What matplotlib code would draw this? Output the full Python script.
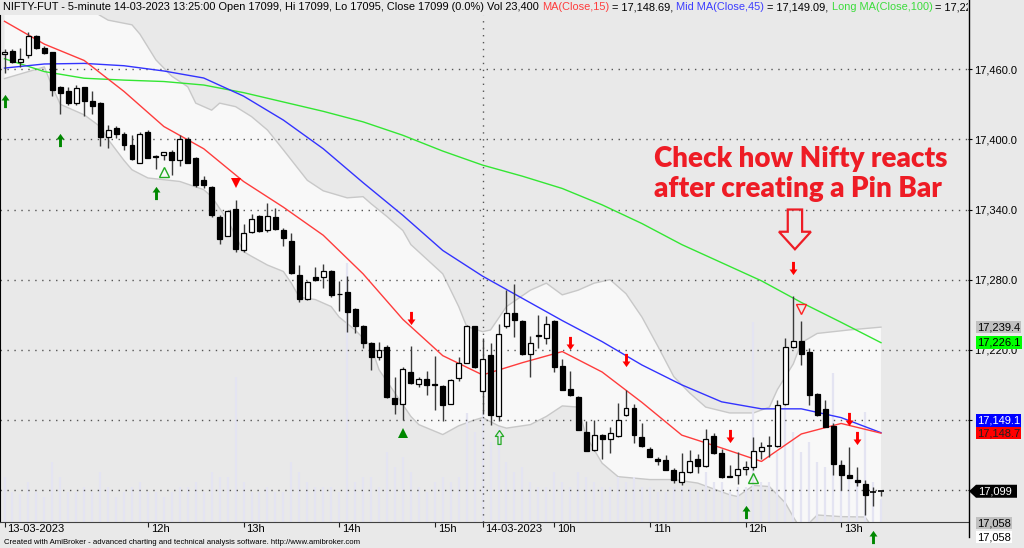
import matplotlib
matplotlib.use("Agg")
import matplotlib.pyplot as plt
from matplotlib.path import Path
from matplotlib.patches import Polygon
from matplotlib.lines import Line2D
from matplotlib.transforms import Bbox, blended_transform_factory

W, H = 1024, 548

# 5-minute bars: 13-03-2023 10:30 .. 15:25, then 14-03-2023 09:15 .. 13:25
opens = [17473, 17476, 17466.5, 17472, 17488.5, 17478, 17474.5, 17445, 17441, 17431,
         17444.5, 17433, 17431, 17402, 17409.5, 17405, 17395, 17380, 17406, 17385.5,
         17387, 17389.5, 17382, 17400.5, 17384.5, 17365, 17359.5, 17334, 17317.5, 17340.5,
         17305.5, 17321, 17334.5, 17322.5, 17334, 17322.5, 17313, 17284, 17263.5, 17282,
         17282.5, 17287.5, 17268, 17269.5, 17254.5, 17240, 17226, 17214, 17222, 17179,
         17174, 17201, 17190.5, 17195, 17190.5, 17189, 17174, 17195.5, 17209, 17240,
         17185, 17215.5, 17163.5, 17240, 17251.5, 17244.5, 17216.5, 17232.5, 17230.5, 17244.5,
         17206, 17186.5, 17180, 17150, 17134.5, 17147.5, 17143.5, 17146.5, 17164, 17170,
         17145, 17135.5, 17127, 17125.5, 17117.5, 17107, 17115.5, 17127, 17120.5, 17146.5,
         17131.5, 17112, 17113, 17118, 17120, 17133.5, 17137.5, 17137.5, 17173.5, 17222.5,
         17227.5, 17218, 17182.5, 17169, 17155, 17121.5, 17112.5, 17108.5, 17105.5, 17098.5,
         17099]
highs = [17477, 17477, 17478, 17492, 17489, 17480, 17475, 17446, 17445, 17446.5,
         17445, 17441, 17432, 17412, 17411.5, 17406.5, 17404, 17406.5, 17408, 17386.5,
         17389.5, 17391, 17404, 17402, 17385, 17369, 17360.5, 17335.5, 17339.5, 17348,
         17328, 17336, 17335.5, 17345.5, 17341, 17324, 17319.5, 17292.5, 17278.5, 17290.5,
         17293, 17288.5, 17278.5, 17283.5, 17255.5, 17241.5, 17226.5, 17227, 17224, 17197,
         17205, 17223, 17197, 17202, 17215, 17190, 17195, 17213.5, 17241, 17240.5,
         17230.5, 17226, 17242, 17271.5, 17276, 17245.5, 17231.5, 17250, 17249, 17245.5,
         17212, 17201.5, 17180.5, 17159, 17160, 17148, 17154, 17174.5, 17186, 17173.5,
         17157, 17137, 17128.5, 17130, 17118.5, 17131.5, 17134.5, 17131, 17152, 17149,
         17135.5, 17121.5, 17133, 17124.5, 17145, 17141, 17146, 17177, 17230.5, 17266,
         17244.5, 17221.5, 17183, 17177, 17157, 17125.5, 17137, 17120, 17109, 17102.5,
         17099]
lows = [17457, 17465, 17462, 17470, 17477, 17473, 17437, 17422, 17429.5, 17429.5,
        17420, 17421.5, 17394, 17393, 17401, 17391, 17382, 17379.5, 17384, 17375,
        17382.5, 17369.5, 17377, 17379.5, 17359.5, 17358, 17334, 17310.5, 17317, 17304,
        17304, 17319.5, 17321, 17321, 17322.5, 17309, 17284.5, 17260.5, 17263, 17278.5,
        17272.5, 17265.5, 17253, 17235, 17234, 17221.5, 17203, 17211.5, 17178.5, 17165.5,
        17160, 17191, 17188.5, 17181, 17168.5, 17159, 17173.5, 17193.5, 17208.5, 17204.5,
        17165, 17155.5, 17159, 17238.5, 17231, 17215.5, 17197, 17221.5, 17225, 17201,
        17185.5, 17180.5, 17151, 17133.5, 17133.5, 17127, 17131.5, 17145, 17163.5, 17140.5,
        17137, 17128, 17121.5, 17117, 17106, 17104.5, 17114.5, 17115, 17120, 17131,
        17110, 17111.5, 17105.5, 17113, 17117.5, 17127, 17128.5, 17137, 17173, 17221.5,
        17207, 17172.5, 17163.5, 17154, 17113, 17100, 17110, 17103.5, 17079, 17086,
        17095]
closes = [17475, 17466, 17469, 17488.5, 17478, 17474, 17442, 17439.5, 17431.5, 17444,
          17432.5, 17428.5, 17402, 17408, 17405, 17395, 17383, 17405, 17384.5, 17385,
          17389, 17382.5, 17400.5, 17380, 17361, 17361, 17335, 17315, 17339, 17306,
          17319.5, 17331.5, 17322, 17334.5, 17323.5, 17315.5, 17286, 17263.5, 17278, 17280,
          17287.5, 17266.5, 17267.5, 17252.5, 17240, 17226, 17213.5, 17220, 17179.5, 17174,
          17203.5, 17192, 17195, 17190, 17190, 17172.5, 17194, 17209, 17240.5, 17205.5,
          17212.5, 17164, 17233.5, 17251.5, 17245.5, 17216, 17226, 17232, 17242.5, 17205.5,
          17186, 17181, 17151.5, 17133.5, 17147.5, 17143.5, 17148.5, 17160, 17170, 17147,
          17137.5, 17128, 17125, 17117, 17108.5, 17115.5, 17125, 17120.5, 17144, 17132,
          17111.5, 17111.5, 17118, 17120, 17133.5, 17137, 17137.5, 17172.5, 17222, 17227.5,
          17216.5, 17181.5, 17164.5, 17154, 17122.5, 17112.5, 17110.5, 17106.5, 17095.5, 17098.5,
          17099]
# volume, thousands
volumes = [45, 30, 28, 40, 30, 25, 60, 45, 30, 30,
           35, 30, 50, 35, 25, 30, 35, 40, 30, 30,
           25, 30, 35, 35, 40, 30, 50, 45, 45, 145,
           40, 30, 30, 35, 30, 30, 60, 50, 40, 35,
           35, 35, 30, 259, 40, 45, 45, 35, 70, 55,
           65, 50, 35, 30, 40, 45, 40, 45, 109, 90,
           110, 80, 95, 60, 50, 55, 40, 35, 35, 50,
           40, 35, 50, 45, 40, 35, 35, 45, 40, 45,
           35, 35, 30, 30, 35, 35, 35, 30, 50, 40,
           40, 30, 35, 35, 200, 40, 40, 70, 140, 90,
           70, 80, 60, 55, 149, 60, 50, 45, 110, 40, 23]

# moving averages, read every 5 bars
ma_idx = list(range(0, 111, 5))
ma15 = [17501, 17481.5, 17467.5, 17441, 17411, 17392, 17364, 17342, 17318, 17285, 17246, 17215,
        17198.5, 17209, 17218.5, 17201, 17175, 17147, 17136, 17124.5, 17148, 17157, 17148.7]
ma45 = [17461, 17464.5, 17465, 17463, 17458.5, 17452.5, 17437, 17416.5, 17392, 17363, 17335, 17305,
        17283, 17264, 17245, 17227, 17207, 17190, 17175.5, 17169.5, 17169.5, 17162, 17149.1]
ma100 = [17469, 17458, 17452.3, 17450.7, 17449.5, 17446.5, 17440, 17432, 17424, 17415, 17403.5, 17390,
         17378, 17368.5, 17358, 17344, 17328, 17310, 17294.5, 17279, 17260.5, 17243.5, 17226.1]

# bollinger band edges
bb_up_idx = [0, 10, 12, 13, 16, 17, 19, 21, 23, 24, 26, 27, 29, 31, 33, 35, 38, 40, 43, 45,
             46, 48, 50, 51, 55, 57, 58, 60, 61, 63, 66, 68, 70, 72, 74, 76, 78, 80, 82, 84,
             86, 88, 91, 94, 96, 97, 99, 100, 102, 106, 110]
bb_up = [17525, 17515, 17506, 17502, 17498, 17490, 17468, 17454, 17445, 17431,
         17425, 17431, 17428, 17419.5, 17408, 17391, 17365, 17356, 17350, 17351,
         17345, 17334, 17322, 17310, 17285, 17257, 17240, 17235.5, 17237, 17257,
         17271, 17277, 17267, 17271, 17277, 17280, 17268, 17248, 17223, 17197,
         17183, 17171, 17166, 17166, 17171, 17186, 17208, 17226, 17234, 17237, 17239.4]
bb_lo_idx = [0, 2, 4, 5, 6, 7, 10, 12, 13, 15, 16, 18, 22, 25, 26, 28, 30, 31, 33, 35,
             36, 37, 39, 41, 42, 44, 46, 47, 49, 51, 52, 55, 57, 59, 60, 62, 63, 66, 68, 70,
             72, 73, 75, 77, 81, 84, 87, 91, 92, 94, 96, 98, 99, 100, 101, 102, 105, 108, 110]
bb_lo = [17452, 17456, 17460, 17462, 17445, 17430, 17421, 17411, 17400, 17382,
         17374, 17367, 17364, 17357, 17351, 17331, 17304, 17300, 17292.5, 17287,
         17277, 17265, 17263, 17257, 17248, 17237, 17223, 17203, 17183, 17163,
         17156, 17147.5, 17155, 17160, 17162, 17155, 17153, 17156, 17163, 17172,
         17171, 17146, 17123, 17111.5, 17109, 17109, 17106, 17096, 17094.5, 17104,
         17103, 17089, 17077, 17066, 17072, 17078.7, 17077.3, 17077, 17058]

# signal markers (bar, price)
buy_arrow_bars = [0, 7, 19, 93, 109]
buy_arrow_px = [17433, 17399.5, 17354, 17081, 17060]
buy_hollow_arrow_bars = [62]
buy_hollow_arrow_px = [17145.5]
buy_tri_bars = [50]
buy_tri_px = [17149]
buy_hollow_tri_bars = [20, 94]
buy_hollow_tri_px = [17372, 17110]
sell_arrow_bars = [51, 71, 78, 91, 99, 106, 107]
sell_arrow_px = [17247, 17226, 17211, 17146, 17290, 17161, 17144.5]
sell_tri_bars = [29]
sell_tri_px = [17363]
sell_hollow_tri_bars = [100]
sell_hollow_tri_px = [17255]

price_ticks = [17100, 17160, 17220, 17280, 17340, 17400, 17460]
hidden_ticks = [17100, 17160]  # covered by the value boxes
time_tick_bars = [0, 18, 30, 42, 54, 60, 69, 81, 93, 105]
time_tick_labels = ["13-03-2023", "12h", "13h", "14h", "15h", "14-03-2023", "10h", "11h", "12h", "13h"]
day_break = 60

BG = "#e9e9e9"
FONT = "Liberation Sans"

def fx(px):
    return px / W

def fy(py):
    return 1 - py / H

fig = plt.figure(figsize=(W / 100, H / 100), dpi=100)
fig.patch.set_facecolor(BG)
ax = fig.add_axes([0, fy(522), fx(968), (522 - 15) / H])
ax.set_facecolor(BG)
ax.set_xlim(-0.565, 120.92)
ax.set_ylim(17072.7, 17506.4)

# band
band = list(zip(bb_up_idx, bb_up)) + list(zip(bb_lo_idx, bb_lo))[::-1]
ax.add_patch(Polygon(band, closed=True, facecolor="#f8f8f8", edgecolor="none", zorder=1))
ax.plot(bb_up_idx, bb_up, color="#c8c8c8", lw=1, zorder=1.5)
ax.plot(bb_lo_idx, bb_lo, color="#c8c8c8", lw=1, zorder=1.5)

# volume
vt = blended_transform_factory(ax.transData, ax.transAxes)
bars = list(range(len(closes)))
ax.vlines(bars, 0, [v / 507 for v in volumes], transform=vt, colors="#e4e4f2", lw=1.6, zorder=2)

# grid
for p in price_ticks:
    ax.axhline(p, color="#555555", lw=1, ls=(0, (1, 4)), zorder=2.5)
ax.axvline(day_break, color="#555555", lw=1, ls=(0, (1, 4)), zorder=2.5)

# moving averages
ax.plot(ma_idx, ma100, color="#33e633", lw=1, zorder=3)
ax.plot(ma_idx, ma45, color="#3333ff", lw=1, zorder=3)
ax.plot(ma_idx, ma15, color="#ff3c3c", lw=1, zorder=3)

# candles
ax.vlines(bars, lows, highs, colors="#3a3a3a", lw=1, zorder=4)
for i, (o, c) in enumerate(zip(opens, closes)):
    if o == c:
        ax.hlines(o, i - 0.33, i + 0.33, colors="black", lw=1.2, zorder=5)
        continue
    fc = "white" if c > o else "black"
    ax.bar(i, abs(c - o), bottom=min(o, c), width=0.62, color=fc,
           edgecolor="black", linewidth=0.9, zorder=5)

# markers
up_arrow = Path([(0, 1), (0.6, 0.15), (0.22, 0.15), (0.22, -1), (-0.22, -1), (-0.22, 0.15), (-0.6, 0.15), (0, 1)])
down_arrow = Path([(0, -1), (0.6, -0.15), (0.22, -0.15), (0.22, 1), (-0.22, 1), (-0.22, -0.15), (-0.6, -0.15), (0, -1)])
mk = dict(ls="none", zorder=6, clip_on=False)
ax.plot(buy_arrow_bars, buy_arrow_px, marker=up_arrow, ms=9.5, color="#008800", mew=0, **mk)
ax.plot(buy_hollow_arrow_bars, buy_hollow_arrow_px, marker=up_arrow, ms=10, mfc="none", mec="#22aa22", mew=0.9, **mk)
ax.plot(buy_tri_bars, buy_tri_px, marker="^", ms=7, color="#008800", mew=0, **mk)
ax.plot(buy_hollow_tri_bars, buy_hollow_tri_px, marker="^", ms=6.5, mfc="none", mec="#22aa22", mew=1, **mk)
ax.plot(sell_arrow_bars, sell_arrow_px, marker=down_arrow, ms=9.5, color="#ff0000", mew=0, **mk)
ax.plot(sell_tri_bars, sell_tri_px, marker="v", ms=7, color="#ff0000", mew=0, **mk)
ax.plot(sell_hollow_tri_bars, sell_hollow_tri_px, marker="v", ms=6.5, mfc="none", mec="#ff2222", mew=1, **mk)

# axes / spines
for s in ("top", "right"):
    ax.spines[s].set_visible(False)
ax.spines["left"].set_color("black")
ax.spines["bottom"].set_color("#404040")
ax.yaxis.tick_right()
ax.set_yticks(price_ticks)
ax.set_yticklabels(["" if p in hidden_ticks else f"{p:,.1f}" for p in price_ticks], fontsize=8, family=FONT)
ax.tick_params(axis="y", length=3, width=0.8, pad=1.5, colors="black")
ax.set_xticks(time_tick_bars)
ax.set_xticklabels([])
ax.tick_params(axis="x", length=3.5, width=0.8, colors="#202020")
for b, lab in zip(time_tick_bars, time_tick_labels):
    ax.annotate(lab, xy=(b, 0), xycoords=("data", "axes fraction"), xytext=(3, -2),
                textcoords="offset pixels", ha="left", va="top", fontsize=8, family=FONT)
fig.add_artist(Line2D([fx(968.5), fx(968.5)], [1, fy(537)], color="black", lw=1))

# annotation
fig.text(fx(654), fy(174), "Check how Nifty reacts\nafter creating a Pin Bar",
         color="#ee1c25", fontsize=20, fontweight="heavy", family="Lato", linespacing=1.2,
         ha="left", va="center", zorder=7)
ax_arrow_x, arrow_top, arrow_bot = 99.2, 17340, 17306
ax.add_patch(Polygon([(ax_arrow_x - 0.9, arrow_top), (ax_arrow_x + 0.9, arrow_top),
                      (ax_arrow_x + 0.9, arrow_bot + 15), (ax_arrow_x + 2.0, arrow_bot + 15),
                      (ax_arrow_x, arrow_bot), (ax_arrow_x - 2.0, arrow_bot + 15),
                      (ax_arrow_x - 0.9, arrow_bot + 15)], closed=True,
                     facecolor="none", edgecolor="#ee1c25", lw=1.6, zorder=7))

# right value boxes
def ybox(price, shift=0):
    d = ax.transData.transform((0, price))[1]
    return d / H + shift / H

def value_box(text, price, fc, tc, shift=0):
    fig.text(fx(977), ybox(price, shift), text, fontsize=8, family=FONT, color=tc, va="center", ha="left",
             bbox=dict(boxstyle="square,pad=0.12", fc=fc, ec="none"))

value_box("17,239.4", 17239.4, "#c0c0c0", "black")
value_box("17,226.1", 17226.1, "#00ff00", "black")
value_box("17,149.1", 17149.1, "#0000ff", "white", shift=12.5)
value_box("17,148.7", 17148.7, "#ff0000", "#202020")
yb = ybox(17099) * H
fig.add_artist(Polygon([(fx(969), fy(H - yb)), (fx(976), fy(H - yb - 6.5)), (fx(1017), fy(H - yb - 6.5)),
                        (fx(1017), fy(H - yb + 6.5)), (fx(976), fy(H - yb + 6.5))],
                       closed=True, transform=fig.transFigure, fc="black", ec="none"))
fig.text(fx(978), yb / H, "17,099", fontsize=8, family=FONT, color="white", va="center", ha="left")
fig.text(fx(977), fy(523), "17,058", fontsize=8, family=FONT, color="black", va="center", ha="left",
         bbox=dict(boxstyle="square,pad=0.12", fc="#c0c0c0", ec="none"))
fig.text(fx(977), fy(537), "17,058", fontsize=8, family=FONT, color="black", va="center", ha="left",
         bbox=dict(boxstyle="square,pad=0.12", fc="white", ec="none"))

# title with coloured parts
parts = [("NIFTY-FUT - 5-minute 14-03-2023 13:25:00 Open 17099, Hi 17099, Lo 17095, Close 17099 (0.0%) Vol 23,400 ", "black"),
         ("MA(Close,15)", "#ff3c3c"), (" = 17,148.69, ", "black"),
         ("Mid MA(Close,45)", "#3c3cff"), (" = 17,149.09, ", "black"),
         ("Long MA(Close,100)", "#3cdc3c"), (" = 17,226.10", "black")]
renderer = fig.canvas.get_renderer()
x0 = 3
clip = Bbox.from_extents(0, 0, 968, H)
for txt, col in parts:
    t = fig.text(fx(x0), fy(7), txt, fontsize=7.93, family=FONT, color=col, va="center", ha="left")
    t.set_clip_box(clip)
    t.set_clip_on(True)
    x0 = t.get_window_extent(renderer).x1

fig.text(fx(4), fy(542), "Created with AmiBroker - advanced charting and technical analysis software. http://www.amibroker.com",
         fontsize=5.6, family=FONT, color="black", va="center", ha="left")

fig.savefig("out.png", dpi=100, facecolor=BG)
